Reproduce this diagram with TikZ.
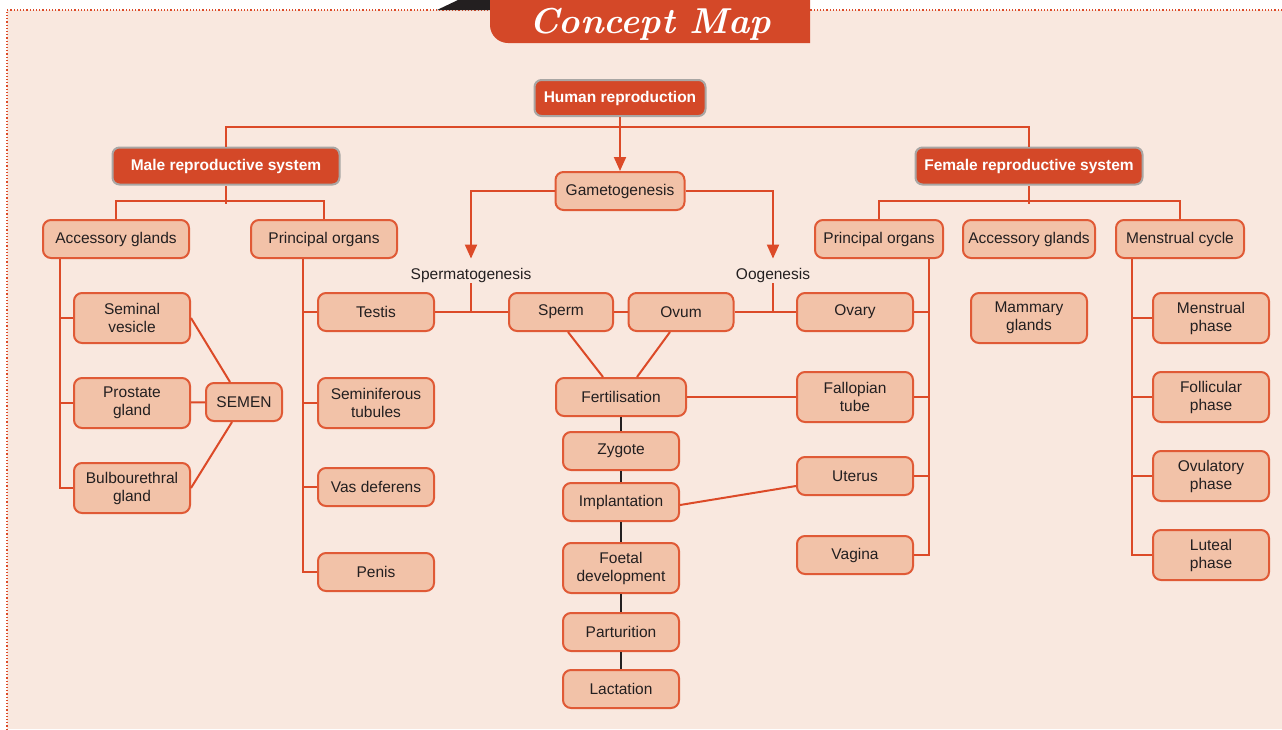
\documentclass[tikz,border=0pt]{standalone}
\usepackage{fontspec}
\setsansfont{Liberation Sans}
\renewcommand{\familydefault}{\sfdefault}
\usetikzlibrary{arrows.meta,positioning}
\definecolor{mapbg}{HTML}{F9E8DF}
\definecolor{boxfill}{HTML}{F2C2A8}
\definecolor{boxline}{HTML}{E05A36}
\definecolor{linkred}{HTML}{DC4A28}
\definecolor{headred}{HTML}{D44828}
\definecolor{headgray}{HTML}{A9A6A4}
\definecolor{textdark}{HTML}{231F20}
\tikzset{
  mapbox/.style={draw=boxline, fill=boxfill, line width=2pt, rounded corners=8pt,
    minimum width=116pt, minimum height=38pt, inner sep=2pt, align=center,
    text=textdark, font=\fontsize{15.5}{18}\selectfont},
  tallbox/.style={mapbox, minimum height=50pt},
  topbox/.style={draw=headgray, fill=headred, line width=2pt, rounded corners=7pt,
    minimum height=37pt, inner sep=2pt, text=white,
    font=\bfseries\fontsize{15.5}{18}\selectfont},
  plainlabel/.style={inner sep=1pt, text=textdark, font=\fontsize{15.5}{18}\selectfont},
  link/.style={draw=linkred, line width=2pt},
  arrowlink/.style={link, -{Triangle[width=12pt,length=14pt]}},
  chainlink/.style={draw=textdark, line width=2pt}
}
\begin{document}
\begin{tikzpicture}[x=1pt,y=-1pt]
\useasboundingbox (0,0) rectangle (1282,729);
\fill[mapbg] (7,10) rectangle (1282,729);
\draw[linkred, dotted, line width=1.2pt] (1282,10) -- (7,10) -- (7,729);
\fill[textdark] (437,10) -- (458,0) -- (492,0) -- (492,10) -- cycle;
\fill[headred] (490,0) -- (490,25) arc[start angle=180, end angle=270, radius=18pt] -- (810,43) -- (810,0) -- cycle;
\node[anchor=base, inner sep=0pt, text=white, font=\rmfamily\bfseries\itshape\fontsize{36}{36}\selectfont] (title) at (650,33) {Concept Map};

\node[topbox, minimum width=171pt, minimum height=36pt] (hr) at (620,98) {Human reproduction};
\node[topbox, minimum width=227pt] (male) at (226,166) {Male reproductive system};
\node[topbox, minimum width=227pt] (female) at (1029,166) {Female reproductive system};
\node[mapbox, minimum width=129pt] (game) at (620,191) {Gametogenesis};
\node[mapbox, minimum width=146pt] (macc) at (116,239) {Accessory glands};
\node[mapbox, minimum width=146pt] (mprin) at (324,239) {Principal organs};
\node[mapbox, minimum width=128pt] (fprin) at (879,239) {Principal organs};
\node[mapbox, minimum width=132pt] (facc) at (1029,239) {Accessory glands};
\node[mapbox, minimum width=128pt] (mcyc) at (1180,239) {Menstrual cycle};
\node[plainlabel] (spg) at (471,275) {Spermatogenesis};
\node[plainlabel] (oog) at (773,275) {Oogenesis};
\node[tallbox] (semv) at (132,318) {Seminal\\vesicle};
\node[tallbox] (prost) at (132,403) {Prostate\\gland};
\node[tallbox] (bulb) at (132,488) {Bulbourethral\\gland};
\node[mapbox, minimum width=76pt] (semen) at (244,402) {SEMEN};
\node[mapbox] (testis) at (376,312) {Testis};
\node[tallbox] (semt) at (376,403) {Seminiferous\\tubules};
\node[mapbox] (vasd) at (376,487) {Vas deferens};
\node[mapbox] (penis) at (376,572) {Penis};
\node[mapbox, minimum width=104pt] (sperm) at (561,312) {Sperm};
\node[mapbox, minimum width=105pt] (ovum) at (681,312) {Ovum};
\node[mapbox] (ovary) at (855,312) {Ovary};
\node[mapbox, minimum width=130pt] (fert) at (621,397) {Fertilisation};
\node[tallbox] (fall) at (855,397) {Fallopian\\tube};
\node[mapbox] (zyg) at (621,451) {Zygote};
\node[mapbox] (impl) at (621,502) {Implantation};
\node[mapbox] (uterus) at (855,476) {Uterus};
\node[mapbox] (vagina) at (855,555) {Vagina};
\node[tallbox] (foetal) at (621,568) {Foetal\\development};
\node[mapbox] (partu) at (621,632) {Parturition};
\node[mapbox] (lact) at (621,689) {Lactation};
\node[tallbox] (mamm) at (1029,318) {Mammary\\glands};
\node[tallbox] (mph) at (1211,318) {Menstrual\\phase};
\node[tallbox] (folph) at (1211,397) {Follicular\\phase};
\node[tallbox] (ovph) at (1211,476) {Ovulatory\\phase};
\node[tallbox] (lutph) at (1211,555) {Luteal\\phase};

\draw[link] (male.north) -- ++(0,-20) -| (female.north);
\draw[arrowlink] (hr.south) -- (game.north);
\draw[link] (male.south) -- ++(0,18);
\draw[link] (macc.north) -- ++(0,-18) -| (mprin.north);
\draw[link] (female.south) -- ++(0,18);
\draw[link] (fprin.north) -- ++(0,-18) -| (mcyc.north);
\draw[arrowlink] (game.west) -| ([yshift=8pt]spg.north);
\draw[arrowlink] (game.east) -| ([yshift=8pt]oog.north);
\draw[link] (spg.south) -- (spg.south |- testis.east);
\draw[link] (oog.south) -- (oog.south |- ovary.west);
\draw[link] (testis) -- (sperm);
\draw[link] (sperm) -- (ovum);
\draw[link] (ovum) -- (ovary);
\draw[link] ([xshift=-56pt]macc.south) |- (bulb.west);
\draw[link] (semv.west) -- ++(-14,0);
\draw[link] (prost.west) -- ++(-14,0);
\draw[link] (semv.east) -- ([xshift=-14pt]semen.north);
\draw[link] (prost) -- (semen);
\draw[link] (bulb.east) -- ([xshift=-12pt]semen.south);
\draw[link] ([xshift=-21pt]mprin.south) |- (penis.west);
\draw[link] (testis.west) -- ++(-15,0);
\draw[link] (semt.west) -- ++(-15,0);
\draw[link] (vasd.west) -- ++(-15,0);
\draw[link] ([xshift=7pt]sperm.south) -- ([xshift=-18pt]fert.north);
\draw[link] ([xshift=-11pt]ovum.south) -- ([xshift=16pt]fert.north);
\draw[link] (fert) -- (fall);
\draw[link] ([yshift=-3pt]impl.east) -- ([yshift=-10pt]uterus.west);
\draw[chainlink] (fert) -- (zyg) -- (impl) -- (foetal) -- (partu) -- (lact);
\draw[link] ([xshift=50pt]fprin.south) |- (vagina.east);
\draw[link] (ovary.east) -- ++(16,0);
\draw[link] (fall.east) -- ++(16,0);
\draw[link] (uterus.east) -- ++(16,0);
\draw[link] ([xshift=-48pt]mcyc.south) |- (lutph.west);
\draw[link] (mph.west) -- ++(-21,0);
\draw[link] (folph.west) -- ++(-21,0);
\draw[link] (ovph.west) -- ++(-21,0);
\end{tikzpicture}
\end{document}
